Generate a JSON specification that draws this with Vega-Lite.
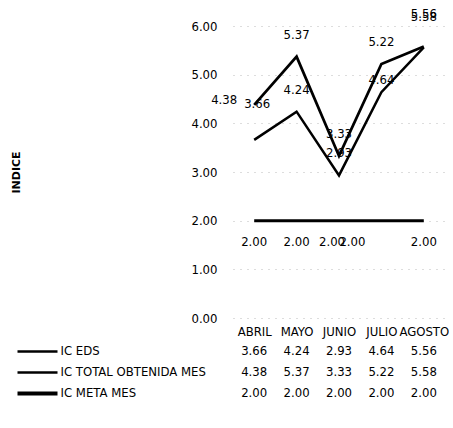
{
  "$schema": "https://vega.github.io/schema/vega-lite/v6.json",
  "padding": {"left": 10, "top": 8, "right": 0, "bottom": 0},
  "background": "white",
  "spacing": 2,
  "config": {
    "font": "DejaVu Sans Condensed, Liberation Sans, sans-serif",
    "view": {"stroke": null},
    "text": {"font": "DejaVu Sans Condensed, Liberation Sans, sans-serif"},
    "axis": {"labelFont": "DejaVu Sans Condensed, Liberation Sans, sans-serif", "labelColor": "black", "labelFontSize": 13, "labelOverlap": false, "labelLimit": 400}
  },
  "datasets": {
    "d": [
      {"mes": "ABRIL", "serie": "IC EDS", "valor": 3.66},
      {"mes": "MAYO", "serie": "IC EDS", "valor": 4.24},
      {"mes": "JUNIO", "serie": "IC EDS", "valor": 2.93},
      {"mes": "JULIO", "serie": "IC EDS", "valor": 4.64},
      {"mes": "AGOSTO", "serie": "IC EDS", "valor": 5.56},
      {"mes": "ABRIL", "serie": "IC TOTAL OBTENIDA MES", "valor": 4.38},
      {"mes": "MAYO", "serie": "IC TOTAL OBTENIDA MES", "valor": 5.37},
      {"mes": "JUNIO", "serie": "IC TOTAL OBTENIDA MES", "valor": 3.33},
      {"mes": "JULIO", "serie": "IC TOTAL OBTENIDA MES", "valor": 5.22},
      {"mes": "AGOSTO", "serie": "IC TOTAL OBTENIDA MES", "valor": 5.58},
      {"mes": "ABRIL", "serie": "IC META MES", "valor": 2.0},
      {"mes": "MAYO", "serie": "IC META MES", "valor": 2.0},
      {"mes": "JUNIO", "serie": "IC META MES", "valor": 2.0},
      {"mes": "JULIO", "serie": "IC META MES", "valor": 2.0},
      {"mes": "AGOSTO", "serie": "IC META MES", "valor": 2.0}
    ]
  },
  "vconcat": [
    {
      "width": 212,
      "height": 292,
      "data": {"name": "d"},
      "encoding": {
        "x": {
          "field": "mes", "type": "ordinal",
          "sort": ["ABRIL", "MAYO", "JUNIO", "JULIO", "AGOSTO"],
          "scale": {"type": "point", "padding": 0.5},
          "axis": {"title": null, "domain": false, "ticks": false, "labelAngle": 0, "labelPadding": 7, "grid": false}
        },
        "y": {
          "field": "valor", "type": "quantitative",
          "scale": {"domain": [0, 6], "nice": false},
          "axis": {
            "title": "INDICE", "values": [0, 1, 2, 3, 4, 5, 6], "format": ".2f",
            "domain": false, "ticks": false, "labelPadding": 16,
            "titleFont": "DejaVu Sans", "titleFontWeight": "bold", "titleFontSize": 11, "titleColor": "black",
            "titlePadding": 169,
            "grid": true, "gridDash": [1, 6], "gridColor": "#bbbbbb"
          }
        }
      },
      "layer": [
        {
          "mark": {"type": "line", "color": "black", "strokeJoin": "miter"},
          "encoding": {
            "detail": {"field": "serie"},
            "strokeWidth": {
              "field": "serie", "type": "nominal",
              "scale": {"domain": ["IC EDS", "IC TOTAL OBTENIDA MES", "IC META MES"], "range": [2.5, 3, 4.5]},
              "legend": null
            }
          }
        },
        {
          "transform": [{"filter": "datum.serie != 'IC META MES' && datum.mes != 'ABRIL' && datum.mes != 'AGOSTO' && !(datum.serie == 'IC EDS' && datum.mes == 'JULIO')"}],
          "mark": {"type": "text", "fontSize": 13, "dy": -22, "color": "black"},
          "encoding": {"text": {"field": "valor", "type": "quantitative", "format": ".2f"}}
        },
        {
          "transform": [{"filter": "datum.serie == 'IC EDS' && datum.mes == 'JULIO'"}],
          "mark": {"type": "text", "fontSize": 13, "dy": -12, "color": "black"},
          "encoding": {"text": {"field": "valor", "type": "quantitative", "format": ".2f"}}
        },
        {
          "transform": [{"filter": "datum.serie == 'IC EDS' && datum.mes == 'AGOSTO'"}],
          "mark": {"type": "text", "fontSize": 13, "dy": -33, "color": "black"},
          "encoding": {"text": {"field": "valor", "type": "quantitative", "format": ".2f"}}
        },
        {
          "transform": [{"filter": "datum.serie == 'IC TOTAL OBTENIDA MES' && datum.mes == 'AGOSTO'"}],
          "mark": {"type": "text", "fontSize": 13, "dy": -29, "color": "black"},
          "encoding": {"text": {"field": "valor", "type": "quantitative", "format": ".2f"}}
        },
        {
          "transform": [{"filter": "datum.serie == 'IC TOTAL OBTENIDA MES' && datum.mes == 'ABRIL'"}],
          "mark": {"type": "text", "fontSize": 13, "dx": -30, "dy": -5, "color": "black"},
          "encoding": {"text": {"field": "valor", "type": "quantitative", "format": ".2f"}}
        },
        {
          "transform": [{"filter": "datum.serie == 'IC EDS' && datum.mes == 'ABRIL'"}],
          "mark": {"type": "text", "fontSize": 13, "dx": 3, "dy": -36, "color": "black"},
          "encoding": {"text": {"field": "valor", "type": "quantitative", "format": ".2f"}}
        },
        {
          "transform": [{"filter": "datum.serie == 'IC META MES' && (datum.mes == 'ABRIL' || datum.mes == 'MAYO' || datum.mes == 'AGOSTO')"}],
          "mark": {"type": "text", "fontSize": 13, "dy": 21, "color": "black"},
          "encoding": {"text": {"field": "valor", "type": "quantitative", "format": ".2f"}}
        },
        {
          "transform": [{"filter": "datum.serie == 'IC META MES' && datum.mes == 'JUNIO'"}],
          "mark": {"type": "text", "fontSize": 13, "dx": -7, "dy": 21, "color": "black"},
          "encoding": {"text": {"field": "valor", "type": "quantitative", "format": ".2f"}}
        },
        {
          "transform": [{"filter": "datum.serie == 'IC META MES' && datum.mes == 'JULIO'"}],
          "mark": {"type": "text", "fontSize": 13, "dx": -29, "dy": 21, "color": "black"},
          "encoding": {"text": {"field": "valor", "type": "quantitative", "format": ".2f"}}
        }
      ]
    },
    {
      "width": 212,
      "height": 63,
      "data": {"name": "d"},
      "mark": {"type": "text", "fontSize": 13, "color": "black"},
      "encoding": {
        "x": {
          "field": "mes", "type": "ordinal",
          "sort": ["ABRIL", "MAYO", "JUNIO", "JULIO", "AGOSTO"],
          "scale": {"type": "point", "padding": 0.5},
          "axis": null
        },
        "y": {
          "field": "serie", "type": "nominal",
          "sort": ["IC EDS", "IC TOTAL OBTENIDA MES", "IC META MES"],
          "scale": {"type": "point", "padding": 0.5},
          "axis": {
            "title": null, "orient": "left", "offset": 176, "domain": false,
            "ticks": true, "tickSize": 40, "tickColor": "black",
            "tickWidth": {"condition": {"test": "datum.value === 'IC META MES'", "value": 4}, "value": 2.5},
            "labelAlign": "left", "labelPadding": -43, "grid": false
          }
        },
        "text": {"field": "valor", "type": "quantitative", "format": ".2f"}
      }
    }
  ]
}
